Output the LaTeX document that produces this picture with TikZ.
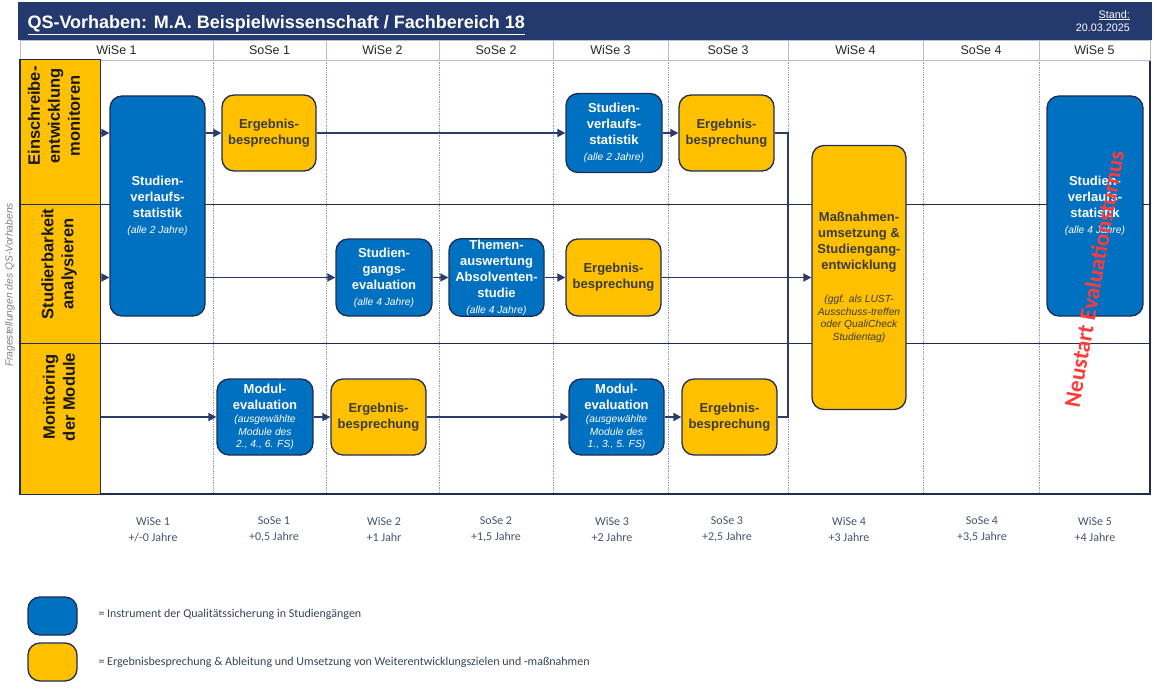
\documentclass[tikz,border=0pt]{standalone}
\usepackage{fontspec}
\setmainfont{Liberation Sans}
\newfontfamily\calibrifont{Carlito}
\usepackage{tikz}
\usetikzlibrary{backgrounds}
\usetikzlibrary{calc}
\usetikzlibrary{arrows.meta}
\definecolor{QsNavy}{HTML}{243A6E}
\definecolor{QsBlue}{HTML}{0070C0}
\definecolor{QsYellow}{HTML}{FFC000}
\definecolor{QsEdge}{HTML}{1F2D52}
\definecolor{QsArrow}{HTML}{2A3C6B}
\definecolor{QsGrid}{HTML}{8E9CBA}
\definecolor{QsCell}{HTML}{B4BED3}
\definecolor{QsInk}{HTML}{3C3C3C}
\definecolor{QsSlate}{HTML}{44546A}
\definecolor{QsRed}{HTML}{FF3B3B}
\newcommand{\gridxs}{20}
\newcommand{\gridxe}{1150}
\newcommand{\gridys}{60}
\newcommand{\gridye}{494}
\newcommand{\labelxe}{100}
\newcommand{\laneab}{204}
\newcommand{\lanebc}{343}
\newcommand{\rowya}{133}
\newcommand{\rowyb}{277.5}
\newcommand{\rowyc}{417}
\newcommand{\boxfont}{\fontsize{13}{16}\selectfont\bfseries}
\newcommand{\notefont}{\fontsize{10.3}{12.5}\selectfont\mdseries\itshape}

\begin{document}
\begin{tikzpicture}[x=1pt,y=-1pt,
    instrument/.style={draw=QsEdge,line width=1.3pt,fill=QsBlue,
      rounded corners=12pt,text=white,font=\boxfont,align=center,inner sep=1pt},
    meeting/.style={instrument,fill=QsYellow,text=QsInk},
    lane/.style={draw=QsEdge,line width=1pt,fill=QsYellow,
      minimum width=80,inner sep=0pt},
    lanetext/.style={rotate=90,align=center,text=black!90,
      font=\fontsize{16.5}{20}\selectfont\bfseries},
    colhead/.style={draw=QsCell,fill=white,minimum height=20,inner sep=0pt,
      font=\fontsize{12.5}{14}\selectfont,text=black!85},
    colline/.style={QsGrid,densely dotted,line width=0.7pt},
    flow/.style={QsArrow,line width=1.8pt,-{Triangle[length=8pt,width=8pt]}},
    link/.style={QsArrow,line width=1.8pt},
    stamp/.style={align=center,text=QsSlate,
      font=\calibrifont\fontsize{12}{15.5}\selectfont},
    keytext/.style={anchor=west,text=QsSlate!80!black,
      font=\calibrifont\fontsize{12}{14}\selectfont}]
  \useasboundingbox (0,0) rectangle (1157,690);
  % title bar
  \fill[QsNavy] (18,2) rectangle (1152,40);
  \node[anchor=base west,text=white,font=\fontsize{18}{20}\selectfont\bfseries]
    (title) at (24,29) {\underline{QS-Vorhaben: M.A. Beispielwissenschaft / Fachbereich 18}};
  \node[anchor=north east,align=right,text=white,inner sep=0pt,
    font=\fontsize{10.8}{13}\selectfont] (stand) at (1130,10)
    {\underline{Stand:}\\20.03.2025};
  \foreach \xs/\xe/\sem [count=\i] in {20/213/WiSe 1, 213/326/SoSe 1,
      326/439/WiSe 2, 439/553/SoSe 2, 553/668/WiSe 3, 668/788/SoSe 3,
      788/923/WiSe 4, 923/1039/SoSe 4, 1039/1150/WiSe 5}
    \node[colhead,minimum width={\xe-\xs}] (head\i) at ({(\xs+\xe)/2},50) {\sem};
  \begin{scope}[on background layer]
    % lanes and grid
    \foreach \x in {213,326,439,553,668,788,923,1039}
      \draw[colline] (\x,\gridys) -- (\x,\gridye);
    \draw[QsEdge,line width=1pt] (\gridxs,\laneab) -- (\gridxe,\laneab);
    \draw[QsEdge,line width=1pt] (\gridxs,\lanebc) -- (\gridxe,\lanebc);
    \draw[QsEdge,line width=1.2pt] (\gridxs,\gridys) rectangle (\gridxe,\gridye);
  \end{scope}
  \node[lane,minimum height=144] (laneA) at (60,132) {};
  \node[lane,minimum height=139] (laneB) at (60,273.5) {};
  \node[lane,minimum height=151] (laneC) at (60,418.5) {};
  \node[lanetext] (lblA) at (54,116) {Einschreibe-\\entwicklung\\monitoren};
  \node[lanetext] (lblB) at (59,264) {Studierbarkeit\\analysieren};
  \node[lanetext] (lblC) at (59,397) {Monitoring\\der Module};
  \node[rotate=90,text=black!50,font=\fontsize{10.3}{12}\selectfont\itshape]
    (question) at (10,285) {Fragestellungen des QS-Vorhabens};
  % boxes
  \node[instrument,minimum width=95,minimum height=220] (svsA) at (157.5,206)
    {Studien-\\verlaufs-\\statistik\\{\notefont (alle 2 Jahre)}};
  \node[meeting,minimum width=94,minimum height=76] (ergA) at (269,\rowya)
    {Ergebnis-\\besprechung};
  \node[instrument,minimum width=96,minimum height=79] (svsB) at (614,\rowya)
    {Studien-\\verlaufs-\\statistik\\{\notefont (alle 2 Jahre)}};
  \node[meeting,minimum width=95,minimum height=76] (ergD) at (726.5,\rowya)
    {Ergebnis-\\besprechung};
  \node[instrument,minimum width=96,minimum height=77] (sgev) at (384,\rowyb)
    {Studien-\\gangs-\\evaluation\\{\notefont (alle 4 Jahre)}};
  \node[instrument,minimum width=95,minimum height=77] (them) at (496.5,\rowyb)
    {Themen-\\auswertung\\Absolventen-\\studie\\{\notefont (alle 4 Jahre)}};
  \node[meeting,minimum width=95,minimum height=77] (ergB) at (613.5,\rowyb)
    {Ergebnis-\\besprechung};
  \node[meeting,minimum width=94,minimum height=264] (massn) at (859,\rowyb)
    {Maßnahmen-\\umsetzung \&\\Studiengang-\\entwicklung\\[17pt]
     {\notefont (ggf. als LUST-}\\[-3.5pt]{\notefont Ausschuss-treffen}\\[-3.5pt]
     {\notefont oder QualiCheck}\\[-3.5pt]{\notefont Studientag)}};
  \node[instrument,minimum width=96,minimum height=220] (svsC) at (1095,206)
    {Studien-\\verlaufs-\\statistik\\{\notefont (alle 4 Jahre)}};
  \node[instrument,minimum width=96,minimum height=76] (modA) at (265,\rowyc)
    {Modul-\\evaluation\\[-3pt]{\notefont (ausgewählte}\\[-3.5pt]
     {\notefont Module des}\\[-3.5pt]{\notefont 2., 4., 6. FS)}};
  \node[meeting,minimum width=95,minimum height=76] (ergE) at (378.5,\rowyc)
    {Ergebnis-\\besprechung};
  \node[instrument,minimum width=95,minimum height=76] (modB) at (616.5,\rowyc)
    {Modul-\\evaluation\\[-3pt]{\notefont (ausgewählte}\\[-3.5pt]
     {\notefont Module des}\\[-3.5pt]{\notefont 1., 3., 5. FS)}};
  \node[meeting,minimum width=95,minimum height=76] (ergF) at (729.5,\rowyc)
    {Ergebnis-\\besprechung};
  \coordinate (merge) at (788,\rowyb);
  % connectors
  \draw[flow] (laneA.east |- ergA) -- (svsA.west |- ergA);
  \draw[flow] (svsA.east |- ergA) -- (ergA);
  \draw[flow] (ergA) -- (svsB);
  \draw[flow] (svsB) -- (ergD);
  \draw[link] (ergD.east) -| (merge);
  \draw[flow] (laneB.east |- sgev) -- (svsA.west |- sgev);
  \draw[flow] (svsA.east |- sgev) -- (sgev);
  \draw[flow] (sgev) -- (them);
  \draw[flow] (them) -- (ergB);
  \draw[flow] (ergB) -- (massn);
  \draw[flow] (laneC.east |- modA) -- (modA);
  \draw[flow] (modA) -- (ergE);
  \draw[flow] (ergE) -- (modB);
  \draw[flow] (modB) -- (ergF);
  \draw[link] (ergF.east) -| (merge);
  \node[rotate=80,text=QsRed,font=\calibrifont\bfseries\fontsize{23}{26}\selectfont]
    (restart) at (1094,279) {Neustart Evaluationsturnus};
  % time line
  \foreach \x/\sem/\yrs [count=\i] in {153/{WiSe 1}/{+/-0 Jahre},
      274/{SoSe 1}/{+0,5 Jahre}, 384/{WiSe 2}/{+1 Jahr},
      496/{SoSe 2}/{+1,5 Jahre}, 612/{WiSe 3}/{+2 Jahre},
      727/{SoSe 3}/{+2,5 Jahre}, 849/{WiSe 4}/{+3 Jahre},
      982/{SoSe 4}/{+3,5 Jahre}, 1095/{WiSe 5}/{+4 Jahre}}
    \node[stamp] (time\i) at (\x,529.5) {\sem\\\yrs};
  % legend
  \node[instrument,minimum width=49,minimum height=38] (keyA) at (52.5,616) {};
  \node[meeting,minimum width=49,minimum height=38] (keyB) at (52.5,662) {};
  \node[keytext] (keyAtext) at (95,614)
    {= Instrument der Qualitätssicherung in Studiengängen};
  \node[keytext] (keyBtext) at (95,662)
    {= Ergebnisbesprechung \& Ableitung und Umsetzung von Weiterentwicklungszielen und -maßnahmen};
\end{tikzpicture}
\end{document}
